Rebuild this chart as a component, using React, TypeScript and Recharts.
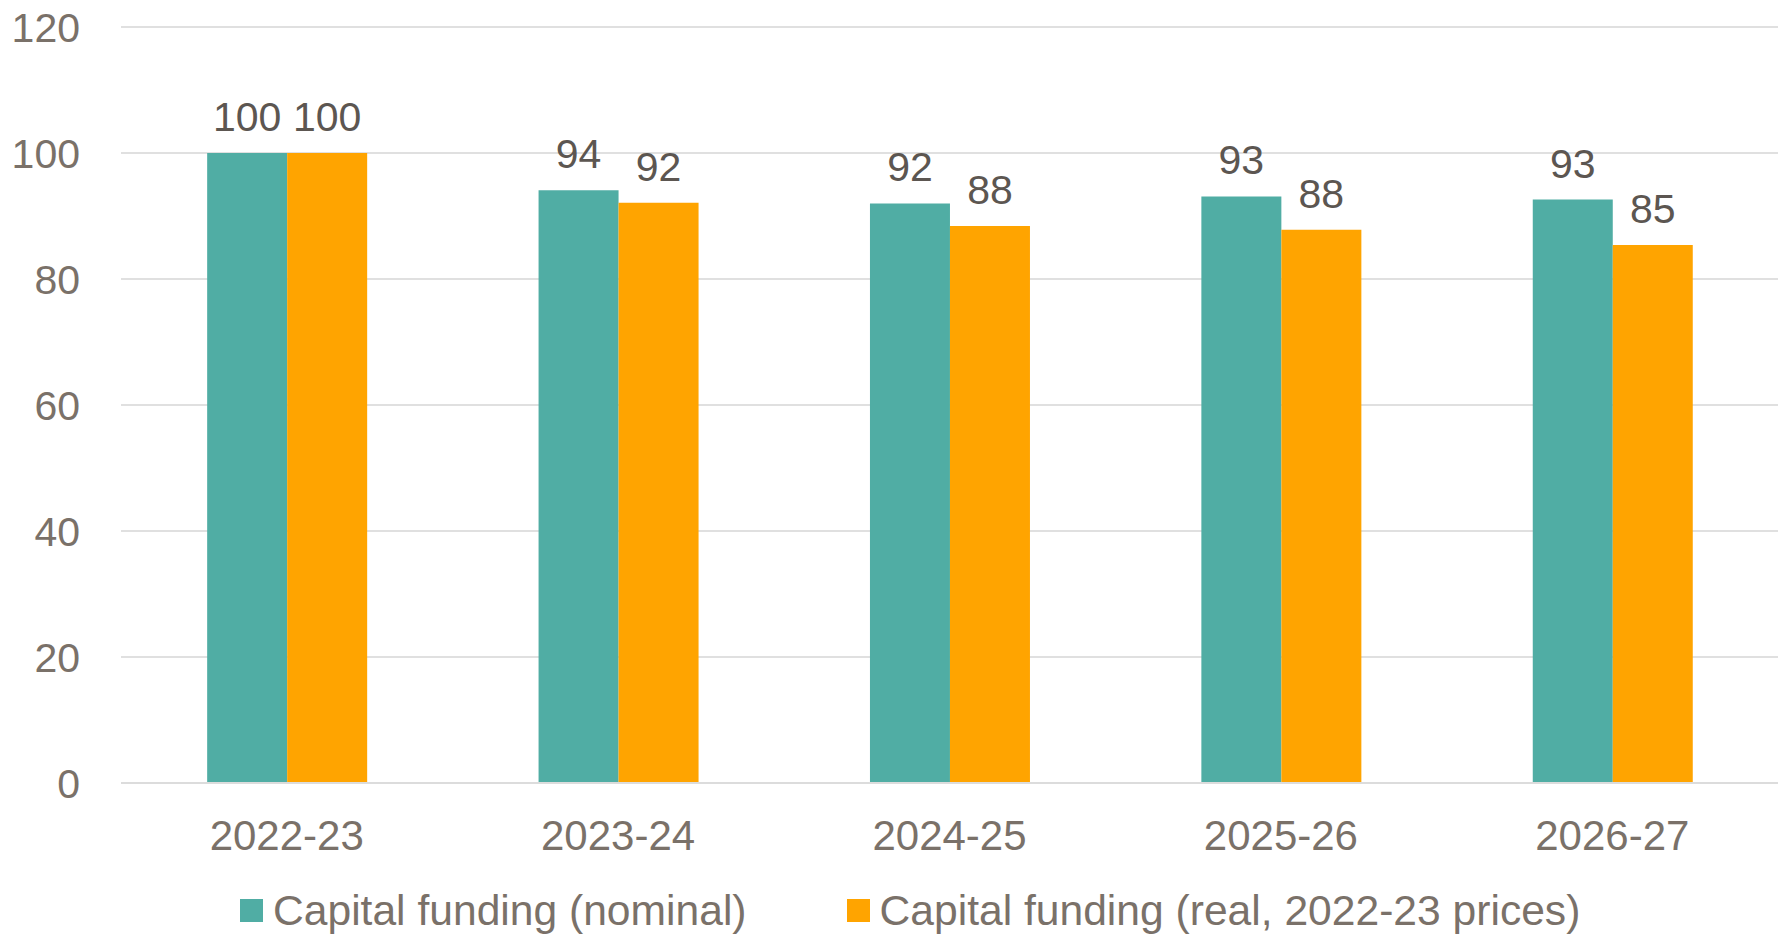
import { BarChart, Bar, XAxis, YAxis, CartesianGrid, Legend, LabelList } from 'recharts'

const years = ['2022-23', '2023-24', '2024-25', '2025-26', '2026-27']
const nominal = [100, 94.1, 92.0, 93.1, 92.6]
const real = [100, 92.1, 88.4, 87.8, 85.4]
const yTicks = [0, 20, 40, 60, 80, 100, 120]

const TEAL = '#50ada4'
const ORANGE = '#ffa400'
const FONT = '"Liberation Sans", Arial, sans-serif'
const TICK = '#7a7169'
const LABEL = '#5c5651'

const data = years.map((year, i) => ({ year, nominal: nominal[i], real: real[i] }))

const legendItems = [
      { name: 'Capital funding (nominal)', color: TEAL },
      { name: 'Capital funding (real, 2022-23 prices)', color: ORANGE }
]

const LegendBox = () => (
      <div style={{ height: 73, paddingTop: 26, boxSizing: 'border-box', display: 'flex', paddingLeft: 240, gap: 100, fontFamily: FONT }}>
            {legendItems.map((it) => (
                  <div key={it.name} style={{ display: 'flex', alignItems: 'center', height: 42 }}>
                        <span style={{ width: 23, height: 23, background: it.color, marginRight: 10, display: 'inline-block' }} />
                        <span style={{ fontSize: 42.6, lineHeight: '42px', color: TICK, whiteSpace: 'nowrap' }}>{it.name}</span>
                  </div>
            ))}
      </div>
)

export default function App() {
      return (
            <div style={{ width: 1778, height: 936, background: '#fff', fontFamily: FONT }}>
                  <style>{'body{margin:0}'}</style>
                  <BarChart
                        width={1778}
                        height={936}
                        data={data}
                        margin={{ top: 27, right: 0, left: 0, bottom: 0 }}
                        barCategoryGap="26%"
                        barGap={0}
                  >
                        <CartesianGrid vertical={false} stroke="#e0e0e0" strokeWidth={2} />
                        <XAxis
                              dataKey="year"
                              height={80}
                              axisLine={{ stroke: '#dcdcdc', strokeWidth: 2 }}
                              tickLine={false}
                              tickMargin={31}
                              tick={{ fill: TICK, fontSize: 42, fontFamily: FONT }}
                        />
                        <YAxis
                              width={121}
                              domain={[0, 120]}
                              ticks={yTicks}
                              axisLine={false}
                              tickLine={false}
                              tickMargin={35}
                              tick={{ fill: TICK, fontSize: 41, fontFamily: FONT }}
                        />
                        <Legend verticalAlign="bottom" content={<LegendBox />} />
                        <Bar dataKey="nominal" fill={TEAL} isAnimationActive={false}>
                              <LabelList dataKey="nominal" position="top" offset={22} fill={LABEL} fontSize={41} fontFamily={FONT} formatter={(v: any) => Math.round(Number(v))} />
                        </Bar>
                        <Bar dataKey="real" fill={ORANGE} isAnimationActive={false}>
                              <LabelList dataKey="real" position="top" offset={22} fill={LABEL} fontSize={41} fontFamily={FONT} formatter={(v: any) => Math.round(Number(v))} />
                        </Bar>
                  </BarChart>
            </div>
      )
}
